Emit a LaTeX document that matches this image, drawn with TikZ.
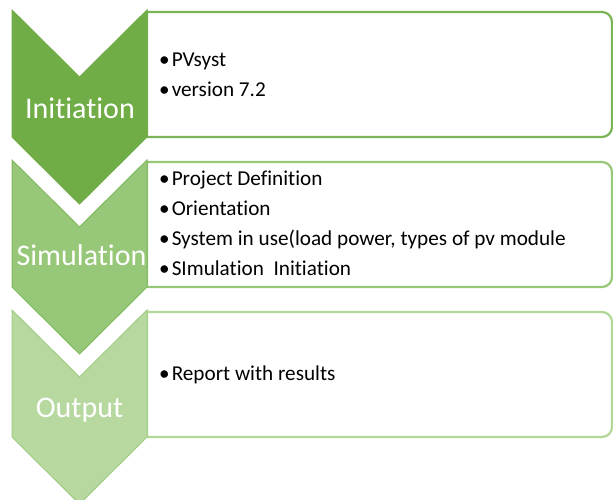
\documentclass[tikz,border=0pt]{standalone}
\usepackage{fontspec}
\setmainfont{Carlito}[Ligatures=NoCommon]
\definecolor{gA}{RGB}{112,173,71}
\definecolor{gB}{RGB}{151,199,120}
\definecolor{gC}{RGB}{183,217,160}
\definecolor{lnA}{RGB}{112,173,71}
\definecolor{lnB}{RGB}{130,186,95}
\definecolor{lnC}{RGB}{160,205,132}
\definecolor{bdA}{RGB}{122,180,86}
\definecolor{bdB}{RGB}{150,200,120}
\definecolor{bdC}{RGB}{178,216,152}
\tikzset{
  stage/.style={line width=1pt, line join=miter},
  infobox/.style={line width=2.2pt, fill=white},
  label/.style={anchor=base, text=white, font=\fontsize{30}{30}\selectfont, inner sep=0pt},
  item/.style={anchor=base west, text=black, font=\fontsize{21.2}{21.2}\selectfont, inner sep=0pt}
}
% bordered text panel with rounded right corners
\newcommand{\panel}[2]{%
  \draw[infobox, draw=#2] (147,#1+125) -- (147,#1) -- (602,#1)
    arc[start angle=-90, end angle=0, radius=10] -- (612,#1+115)
    arc[start angle=0, end angle=90, radius=10] -- cycle;}
% chevron pointing down, top edge at #1
\newcommand{\chevron}[3]{%
  \draw[stage, fill=#2, draw=#3] (12,#1) -- (79.5,#1+67) -- (147,#1) -- (147,#1+127)
    -- (79.5,#1+194) -- (12,#1+127) -- cycle;}
\newcommand{\bul}{•\hspace{2pt}}
\begin{document}
\begin{tikzpicture}[x=1pt,y=-1pt]
\useasboundingbox[fill=white] (0,0) rectangle (613,499);
\begin{scope}
\clip (0,0) rectangle (613,499);
% text panels
\panel{12}{bdA}
\panel{162}{bdB}
\panel{312}{bdC}
% stage chevrons
\chevron{10}{gA}{lnA}
\chevron{160}{gB}{lnB}
\chevron{310}{gC}{lnC}
\end{scope}
% stage labels
\node[label] (init) at (80,118) {Initiation};
\node[label] (sim) at (81.5,265.5) {Simulation};
\node[label] (out) at (79.5,417) {Output};
% panel items
\node[item] (i1) at (159,66) {\bul PVsyst};
\node[item] (i2) at (159,96) {\bul version 7.2};
\node[item] (s1) at (159,185) {\bul Project Definition};
\node[item] (s2) at (159,215) {\bul Orientation};
\node[item] (s3) at (159,245) {\bul System in use(load power, types of pv module};
\node[item] (s4) at (159,275) {\bul SImulation\ \ Initiation};
\node[item] (o1) at (159,380) {\bul Report with results};
\end{tikzpicture}
\end{document}
